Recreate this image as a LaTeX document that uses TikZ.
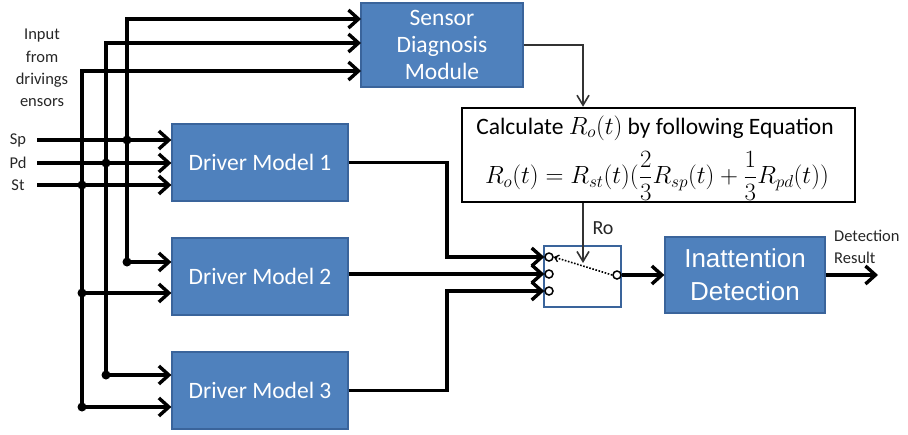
\documentclass[tikz,border=0pt]{standalone}
\usepackage{fontspec}
\setmainfont{Carlito}
\newfontfamily\arialf{Liberation Sans}
\usetikzlibrary{arrows.meta,calc}
\definecolor{boxblue}{HTML}{4F81BD}
\definecolor{boxedge}{HTML}{3A649B}
\begin{document}
\begin{tikzpicture}[x=1pt,y=-1pt,
 blk/.style={draw=boxedge,line width=1.2pt,fill=boxblue,text=white,font=\fontsize{23.5}{27}\selectfont,align=center,inner sep=0pt},
 wire/.style={line width=3.4pt,black},
 arr/.style={wire,-{Straight Barb[length=10pt,width=18pt,line width=3.4pt]}},
 thinarr/.style={line width=1.6pt,draw=black!80,-{Straight Barb[length=10pt,width=12pt,line width=1.6pt]}},
 jdot/.style={circle,fill=black,inner sep=0pt,minimum size=9pt},
 term/.style={circle,draw=black,fill=white,line width=1.5pt,inner sep=0pt,minimum size=8pt},
 lab/.style={font=\fontsize{16.5}{22.3}\selectfont,text=black!85}]
\useasboundingbox (0,0) rectangle (908,434);
% blocks
\node[blk,minimum width=162pt,minimum height=84pt] (sdm) at (442,45) {Sensor\\Diagnosis\\Module};
\node[blk,minimum width=176pt,minimum height=77pt] (dm1) at (260,162.5) {Driver Model 1};
\node[blk,minimum width=176pt,minimum height=77pt] (dm2) at (260,276.5) {Driver Model 2};
\node[blk,minimum width=176pt,minimum height=77pt] (dm3) at (260,390.5) {Driver Model 3};
\node[draw=boxedge,line width=1.5pt,minimum width=77pt,minimum height=61pt,inner sep=0pt] (sw) at (582.5,276.5) {};
\node[blk,font=\arialf\fontsize{26}{33}\selectfont,minimum width=160pt,minimum height=76pt] (id) at (745,275) {Inattention\\Detection};
\node[draw=black,line width=2.5pt,fill=white,minimum width=393pt,minimum height=94pt,inner sep=0pt] (eq) at (658.5,155) {};
\node[font=\fontsize{23.5}{28}\selectfont] (eqt1) at (655,128) {Calculate $R_o(t)$ by following Equation};
\node[font=\fontsize{23.5}{28}\selectfont] (eqt2) at (657,176) {$R_o(t)=R_{st}(t)(\displaystyle\frac{2}{3}R_{sp}(t)+\frac{1}{3}R_{pd}(t))$};
% labels
\node[lab,align=center] (inlab) at (42,68) {Input\\from\\drivings\\ensors};
\node[lab] (splab) at (18,140) {Sp};
\node[lab] (pdlab) at (18,163) {Pd};
\node[lab] (stlab) at (18,185) {St};
\node[font=\fontsize{20}{22}\selectfont,text=black!85] (rolab) at (603,228) {Ro};
\node[lab,anchor=north west,align=left,inner sep=0pt] (detlab) at (834,230) {Detection\\Result};
% coordinates
\coordinate (sp0) at (37,140);
\coordinate (pd0) at (37,163);
\coordinate (st0) at (37,185);
\coordinate (jSp1) at (127,140);
\coordinate (jSp2) at (127,262);
\coordinate (jPd1) at (106,163);
\coordinate (jPd2) at (106,375);
\coordinate (jSt1) at (82,185);
\coordinate (jSt2) at (82,293);
\coordinate (jSt3) at (82,407);
\coordinate (sdmA) at (361,19);
\coordinate (sdmB) at (361,43);
\coordinate (sdmC) at (361,71);
\coordinate (kx) at (583,0);
\coordinate (swin) at (583,263);
\coordinate (res) at (878,275);
% inputs
\draw[arr] (sp0) -- (sp0 -| dm1.west);
\draw[arr] (pd0) -- (pd0 -| dm1.west);
\draw[arr] (st0) -- (st0 -| dm1.west);
\draw[arr] (jSp2) |- (sdmA);
\draw[arr] (jSp2) -- (jSp2 -| dm2.west);
\draw[arr] (jPd2) |- (sdmB);
\draw[arr] (jPd2) -- (jPd2 -| dm3.west);
\draw[arr] (jSt3) |- (sdmC);
\draw[arr] (jSt2) -- (jSt2 -| dm2.west);
\draw[arr] (jSt3) -- (jSt3 -| dm3.west);
\foreach \p in {jSp1,jSp2,jPd1,jPd2,jSt1,jSt2,jSt3} \node[jdot] at (\p) {};
% switch terminals
\node[term] (t1) at (549,257) {};
\node[term] (t2) at (549,274) {};
\node[term] (t3) at (549,291) {};
\node[term] (to) at (617,275) {};
\draw[arr] (dm1.east) -- (447,162.5) -- (447,257) -- (t1.west);
\draw[arr] (dm2.east |- t2) -- (t2.west);
\draw[arr] (dm3.east) -- (447,390.5) -- (447,291) -- (t3.west);
\draw[line width=1.6pt,dash pattern=on 1.6pt off 1.6pt,-{Straight Barb[length=4pt,width=7pt,line width=1.3pt]}] (to.west) -- (t1.east);
\draw[arr] (to.east) -- (id.west);
\draw[arr] (id.east) -- (res);
% thin arrows
\draw[thinarr] (sdm.east) -| (eq.north -| kx);
\draw[thinarr] (eq.south -| kx) -- (swin);
\end{tikzpicture}
\end{document}
